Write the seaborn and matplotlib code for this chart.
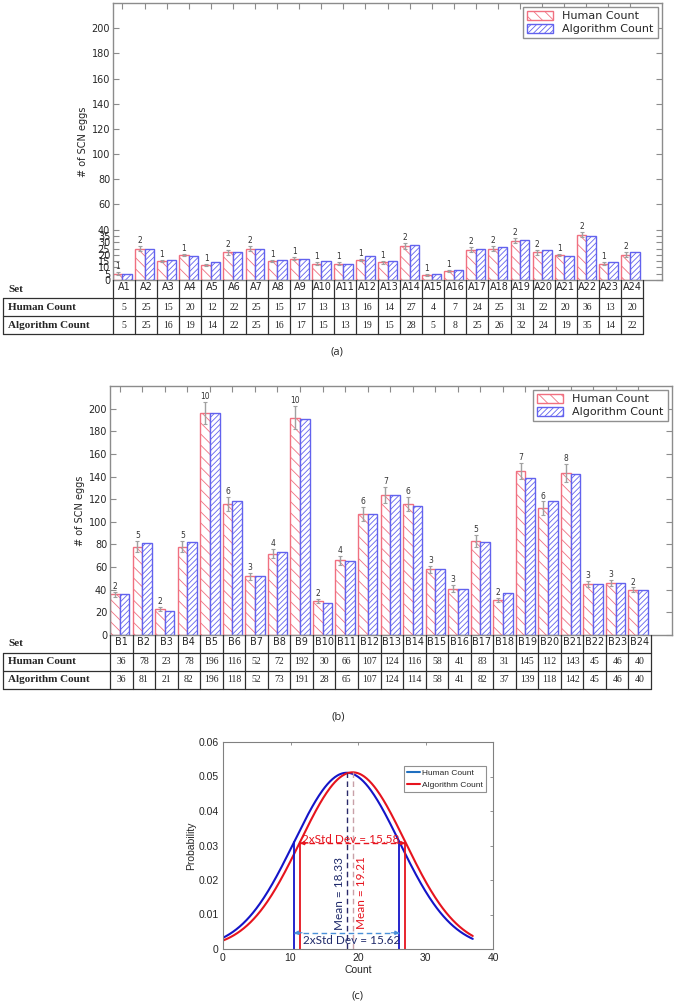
import numpy as np
import pandas as pd
import matplotlib
matplotlib.use('Agg')
import matplotlib.pyplot as plt
import matplotlib.patches as mpatches
from matplotlib.lines import Line2D
import seaborn as sns

W, H = 675, 1006

# ---- data: panel (a) ----
sets_a = ['A%d' % i for i in range(1, 25)]
human_a = [5, 25, 15, 20, 12, 22, 25, 15, 17, 13, 13, 16, 14, 27, 4, 7, 24, 25, 31, 22, 20, 36, 13, 20]
algo_a = [5, 25, 16, 19, 14, 22, 25, 16, 17, 15, 13, 19, 15, 28, 5, 8, 25, 26, 32, 24, 19, 35, 14, 22]
err_a = [1, 2, 1, 1, 1, 2, 2, 1, 1, 1, 1, 1, 1, 2, 1, 1, 2, 2, 2, 2, 1, 2, 1, 2]
yticks_a = [0, 5, 10, 15, 20, 25, 30, 35, 40, 60, 80, 100, 120, 140, 160, 180, 200]

# ---- data: panel (b) ----
sets_b = ['B%d' % i for i in range(1, 25)]
human_b = [36, 78, 23, 78, 196, 116, 52, 72, 192, 30, 66, 107, 124, 116, 58, 41, 83, 31, 145, 112, 143, 45, 46, 40]
algo_b = [36, 81, 21, 82, 196, 118, 52, 73, 191, 28, 65, 107, 124, 114, 58, 41, 82, 37, 139, 118, 142, 45, 46, 40]
err_b = [2, 5, 2, 5, 10, 6, 3, 4, 10, 2, 4, 6, 7, 6, 3, 3, 5, 2, 7, 6, 8, 3, 3, 2]
yticks_b = [0, 20, 40, 60, 80, 100, 120, 140, 160, 180, 200]

# ---- data: panel (c) ----
dist_names = ['Human Count', 'Algorithm Count']
dist_means = [18.33, 19.21]
dist_stds = [7.81, 7.79]
count_range = [0, 37]

sns.set_style('white')
plt.rcParams['font.family'] = ['DejaVu Sans']
plt.rcParams['hatch.linewidth'] = 0.6

HUMAN_EDGE = '#f07080'
ALGO_EDGE = '#6262ee'
SPINE = '#8c8c8c'
SERIF = ['Liberation Serif', 'DejaVu Serif']

fig = plt.figure(figsize=(W / 100, H / 100), dpi=100)


def px_axes(l, t, r, b):
    return fig.add_axes([l / W, 1 - b / H, (r - l) / W, (b - t) / H])


def bar_panel(rect, trect, xright, sets, human, algo, errs, yticks):
    ax = px_axes(*rect)
    n = len(sets)
    df = pd.DataFrame({'set': sets * 2,
                       'source': ['Human Count'] * n + ['Algorithm Count'] * n,
                       'count': human + algo})
    sns.barplot(data=df, x='set', y='count', hue='source',
                hue_order=['Human Count', 'Algorithm Count'],
                palette={'Human Count': 'red', 'Algorithm Count': 'blue'},
                width=0.86, errorbar=None, ax=ax, legend=False)
    for p in ax.patches:
        fc = p.get_facecolor()
        if fc[0] > fc[2]:
            p.set_edgecolor(HUMAN_EDGE)
            p.set_hatch('\\\\\\')
        else:
            p.set_edgecolor(ALGO_EDGE)
            p.set_hatch('//////')
        p.set_facecolor('white')
        p.set_linewidth(1.0)

    xs = np.arange(n) - 0.215
    ax.errorbar(xs, human, yerr=errs, fmt='none', ecolor='#a0a0a0',
                elinewidth=1, capsize=1.2, capthick=0.8)
    for x, v, e in zip(xs, human, errs):
        ax.text(x, v + e + 0.8, str(e), ha='center', va='bottom',
                fontsize=5.5, color='#333333')

    x0 = -0.43
    ax.set_xlim(x0, xright)
    ax.set_ylim(0, 220)
    ax.set_xticks(range(n))
    ax.set_xticklabels([])
    ax.set_yticks(yticks)
    ax.set_yticklabels([str(t) for t in yticks])
    ax.set_xlabel('')
    ax.set_ylabel('# of SCN eggs', fontsize=7, labelpad=3)
    for s in ax.spines.values():
        s.set_visible(True)
        s.set_color(SPINE)
        s.set_linewidth(1)
    ax.tick_params(axis='y', direction='in', left=True, right=True,
                   length=4, color=SPINE, labelsize=7, pad=2)
    ax.tick_params(axis='x', direction='in', top=True, bottom=False,
                   length=4, color=SPINE, labelbottom=False)

    handles = [mpatches.Patch(facecolor='white', edgecolor=HUMAN_EDGE, hatch='\\\\\\', label='Human Count'),
               mpatches.Patch(facecolor='white', edgecolor=ALGO_EDGE, hatch='//////', label='Algorithm Count')]
    leg = ax.legend(handles=handles, loc='upper right', fontsize=8, frameon=True,
                    fancybox=False, edgecolor='#909090', framealpha=1,
                    handlelength=2.4, handleheight=0.8, borderaxespad=0.4,
                    labelspacing=0.25, borderpad=0.35, handletextpad=0.8)
    leg.get_frame().set_linewidth(1)

    # table below the bars
    ppu = (rect[2] - rect[0]) / (xright - x0)
    tax = px_axes(3, trect[0], rect[2], trect[1])
    xl = x0 - (rect[0] - 3) / ppu
    tax.set_xlim(xl, xright)
    tax.set_ylim(3, 0)
    tax.axis('off')
    xend = x0 + n
    lc = '#303030'
    for yy in (1, 2, 3):
        tax.plot([xl, xend], [yy, yy], color=lc, lw=0.9, clip_on=False)
    for k in range(n + 1):
        tax.plot([x0 + k, x0 + k], [0, 3], color=lc, lw=0.9, clip_on=False)
    tax.plot([xl, xl], [1, 3], color=lc, lw=0.9, clip_on=False)
    dx = 5 / ppu
    for row, lab in enumerate(['Set', 'Human Count', 'Algorithm Count']):
        tax.text(xl + dx, row + 0.5, lab, ha='left', va='center',
                 fontsize=8, fontweight='bold', family=SERIF)
    for k in range(n):
        cx = x0 + k + 0.5
        tax.text(cx, 0.4, sets[k], ha='center', va='center', fontsize=7)
        tax.text(cx, 1.5, str(human[k]), ha='center', va='center', fontsize=7, family=SERIF)
        tax.text(cx, 2.5, str(algo[k]), ha='center', va='center', fontsize=7, family=SERIF)
    return ax


bar_panel((113, 3, 662, 280), (280, 334), 24.43, sets_a, human_a, algo_a, err_a, yticks_a)
bar_panel((110, 386, 672, 635), (635, 689), 24.5, sets_b, human_b, algo_b, err_b, yticks_b)

# ---- panel (c) ----
axc = px_axes(223, 742, 493, 949)
BLUE = '#1414c8'
RED = '#e6141e'
xs = np.linspace(count_range[0], count_range[1], 300)
frames = []
for name, m, s in zip(dist_names, dist_means, dist_stds):
    pdf = np.exp(-(xs - m) ** 2 / (2 * s * s)) / (s * np.sqrt(2 * np.pi))
    frames.append(pd.DataFrame({'Count': xs, 'Probability': pdf, 'source': name}))
dfc = pd.concat(frames, ignore_index=True)
sns.lineplot(data=dfc, x='Count', y='Probability', hue='source',
             hue_order=dist_names, palette=[BLUE, RED], lw=1.5,
             ax=axc, legend=False)


def npdf(x, m, s):
    return np.exp(-(x - m) ** 2 / (2 * s * s)) / (s * np.sqrt(2 * np.pi))


mean_cols = ['#2a2a6a', '#c8a0a8']
for m, s, c, mc in zip(dist_means, dist_stds, [BLUE, RED], mean_cols):
    for xv in (m - s, m + s):
        axc.plot([xv, xv], [0, npdf(xv, m, s)], color=c, lw=1.3)
    axc.plot([m, m], [0, npdf(m, m, s)], color=mc, lw=1, ls=(0, (4, 2.5)))

# 2xStd arrows
mh, sh = dist_means[0], dist_stds[0]
ma, sa = dist_means[1], dist_stds[1]
ya, yb = 0.0307, 0.0047
axc.plot([ma - sa, ma + sa], [ya, ya], color=RED, lw=1, ls=(0, (4, 2.5)))
axc.plot([mh - sh, mh + sh], [yb, yb], color='#4a90d9', lw=1, ls=(0, (4, 2.5)))
for (x1, x2, yy, c) in [(ma - sa, ma + sa, ya, RED), (mh - sh, mh + sh, yb, '#4a90d9')]:
    axc.annotate('', xy=(x1, yy), xytext=(x1 + 1.2, yy),
                 arrowprops=dict(arrowstyle='-|>', color=c, lw=0.8, mutation_scale=6,
                                 shrinkA=0, shrinkB=0))
    axc.annotate('', xy=(x2, yy), xytext=(x2 - 1.2, yy),
                 arrowprops=dict(arrowstyle='-|>', color=c, lw=0.8, mutation_scale=6,
                                 shrinkA=0, shrinkB=0))

TXT = ['Lato', 'DejaVu Sans']
NAVY = '#1f2a6b'
axc.text(11.7, 0.0306, '2xStd Dev = %.2f' % (2 * sa), color=RED, fontsize=8.5,
         ha='left', va='baseline', family=TXT)
axc.text(19.1, 0.0026, '2xStd Dev = %.2f' % (2 * sh), color=NAVY, fontsize=8.5,
         ha='center', va='center', family=TXT)
axc.text(17.2, 0.0162, 'Mean = %.2f' % mh, color=NAVY, fontsize=8.5, rotation=90,
         ha='center', va='center', family=TXT)
axc.text(20.5, 0.0165, 'Mean = %.2f' % ma, color=RED, fontsize=8.5, rotation=90,
         ha='center', va='center', family=TXT)

axc.set_xlim(0, 40)
axc.set_ylim(0, 0.06)
axc.set_xticks([0, 10, 20, 30, 40])
axc.set_yticks([0, 0.01, 0.02, 0.03, 0.04, 0.05, 0.06])
axc.set_yticklabels(['0', '0.01', '0.02', '0.03', '0.04', '0.05', '0.06'])
MS = ['Liberation Sans', 'DejaVu Sans']
for lab in axc.get_xticklabels() + axc.get_yticklabels():
    lab.set_family(MS)
axc.set_xlabel('Count', fontsize=7.5, family=MS, color='#262626', labelpad=1)
axc.set_ylabel('Probability', fontsize=7.5, family=MS, color='#262626', labelpad=2)
for s in axc.spines.values():
    s.set_visible(True)
    s.set_color('#808080')
    s.set_linewidth(0.8)
axc.tick_params(direction='in', top=True, right=True, length=2.5, width=0.6,
                color='#808080', labelsize=7.5, labelcolor='#262626', pad=3)

leg_handles = [Line2D([0], [0], color='#1f6fbf', lw=1.5, label='Human Count'),
               Line2D([0], [0], color=RED, lw=1.5, label='Algorithm Count')]
lc_ = axc.legend(handles=leg_handles, loc='upper right', bbox_to_anchor=(0.975, 0.885),
                 prop={'family': MS, 'size': 6},
                 frameon=True, fancybox=False, edgecolor='#909090', framealpha=1,
                 handlelength=1.6, handletextpad=0.2, labelspacing=0.45, borderpad=0.4,
                 borderaxespad=0)
lc_.get_frame().set_linewidth(0.8)

# panel letters
for lab, x, y in [('(a)', 337, 352), ('(b)', 338, 717), ('(c)', 358, 996)]:
    fig.text(x / W, 1 - y / H, lab, ha='center', va='center', fontsize=8,
             family=['Open Sans', 'DejaVu Sans'])

fig.savefig('out.png', dpi=100)
